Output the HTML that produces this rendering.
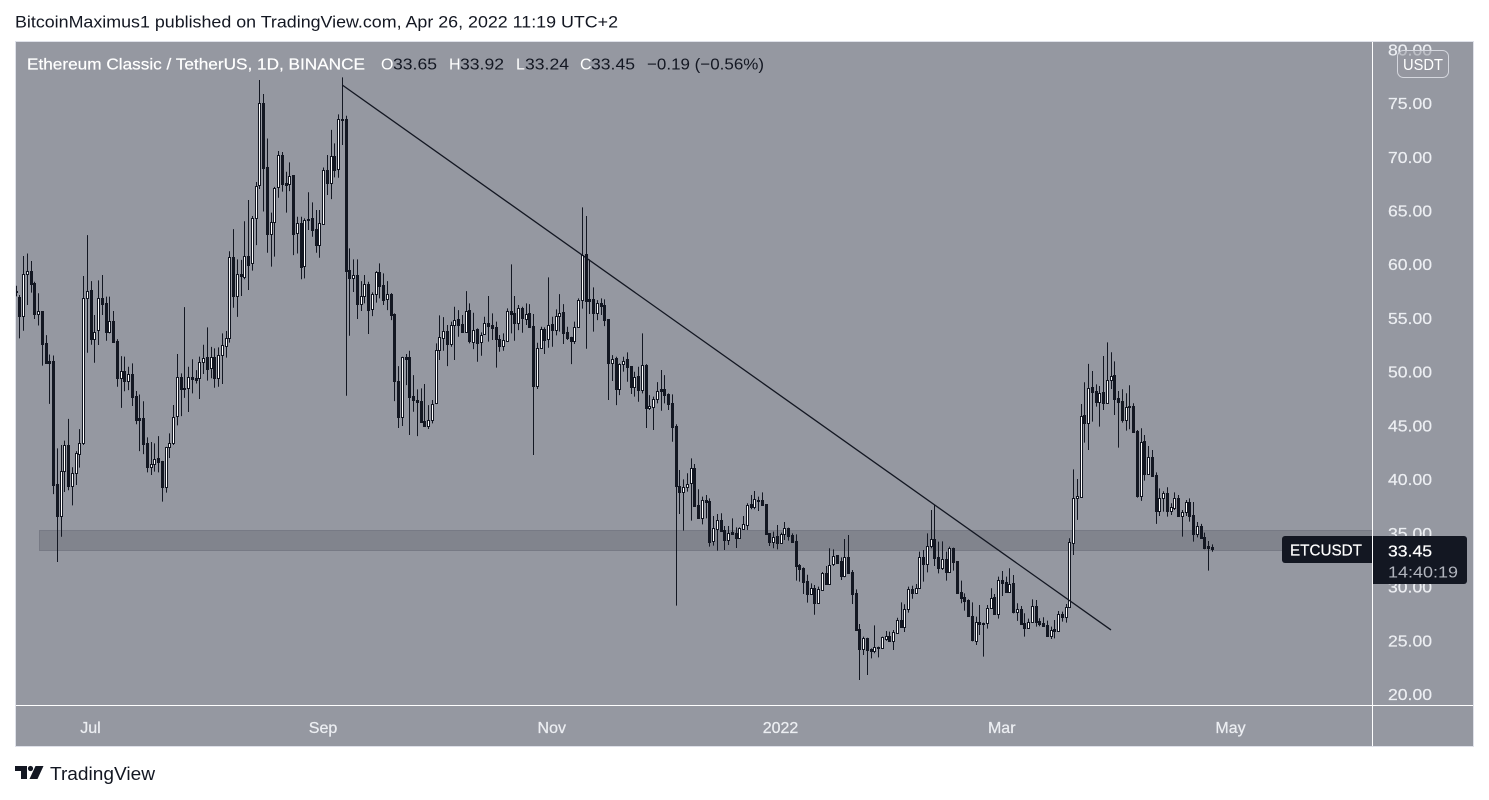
<!DOCTYPE html>
<html lang="en">
<head>
<meta charset="utf-8">
<title>ETCUSDT chart</title>
<style>
html,body{margin:0;padding:0;background:#fff;width:1489px;height:800px;overflow:hidden}
svg{display:block;position:absolute;left:0;top:0}
text{font-family:"Liberation Sans",sans-serif}
</style>
</head>
<body>
<svg id="chart" xmlns="http://www.w3.org/2000/svg" width="1489" height="800" viewBox="0 0 1489 800">
  <text x="15" y="27.5" font-size="17" fill="#131722" textLength="603" lengthAdjust="spacingAndGlyphs">BitcoinMaximus1 published on TradingView.com, Apr 26, 2022 11:19 UTC+2</text>
  <rect x="15.5" y="41.5" width="1458" height="705" fill="#9598a1" stroke="#dfe1e9" stroke-width="1"/>
  <g id="marks"></g>
  <line x1="16" y1="705.5" x2="1473" y2="705.5" stroke="#fff"/>
  <line x1="1372.5" y1="42" x2="1372.5" y2="746" stroke="#fff"/>
  <g id="axes"></g>
  <g font-size="16">
    <text x="27" y="69.5" fill="#fff" stroke="#fff" stroke-width="0.2" textLength="338" lengthAdjust="spacingAndGlyphs">Ethereum Classic / TetherUS, 1D, BINANCE</text>
    <text x="381" y="69.5" fill="#fff">O</text>
    <text x="393" y="69.5" fill="#131722" textLength="44" lengthAdjust="spacingAndGlyphs">33.65</text>
    <text x="449" y="69.5" fill="#fff">H</text>
    <text x="460" y="69.5" fill="#131722" textLength="44" lengthAdjust="spacingAndGlyphs">33.92</text>
    <text x="516" y="69.5" fill="#fff">L</text>
    <text x="525" y="69.5" fill="#131722" textLength="44" lengthAdjust="spacingAndGlyphs">33.24</text>
    <text x="580" y="69.5" fill="#fff">C</text>
    <text x="591" y="69.5" fill="#131722" textLength="44" lengthAdjust="spacingAndGlyphs">33.45</text>
    <text x="647" y="69.5" fill="#131722" textLength="117" lengthAdjust="spacingAndGlyphs">−0.19 (−0.56%)</text>
  </g>
  <g>
    <rect x="1397.5" y="50.5" width="51" height="27" rx="6" fill="#9598a1" fill-opacity="0.55" stroke="#d5d7de"/>
    <text x="1403" y="70" font-size="16" fill="#fff" textLength="40" lengthAdjust="spacingAndGlyphs">USDT</text>
  </g>
  <g>
    <path d="M1372 536H1285a3 3 0 0 0-3 3V560a3 3 0 0 0 3 3H1372Z" fill="#131722"/>
    <path d="M1373 536H1464a3 3 0 0 1 3 3V581a3 3 0 0 1-3 3H1373Z" fill="#131722"/>
    <text x="1290" y="555.5" font-size="16" fill="#fff" stroke="#fff" stroke-width="0.2" textLength="72" lengthAdjust="spacingAndGlyphs">ETCUSDT</text>
    <text x="1388" y="556.5" font-size="16" fill="#fff" stroke="#fff" stroke-width="0.2" textLength="44" lengthAdjust="spacingAndGlyphs">33.45</text>
    <text x="1388" y="577.5" font-size="16" fill="#b2b5be" textLength="70" lengthAdjust="spacingAndGlyphs">14:40:19</text>
  </g>
  <g>
    <polygon points="15,766 27,766 27,779 21,779 21,771 15,771" fill="#131722"/>
    <circle cx="30.5" cy="768.5" r="2.6" fill="#131722"/>
    <polygon points="35.5,766 43.5,766 37.5,779 29.5,779" fill="#131722"/>
    <text x="50" y="780" font-size="18" fill="#131722" textLength="105" lengthAdjust="spacingAndGlyphs">TradingView</text>
  </g>
</svg>
<script>
const opens = [
57.40,56.98,55.17,59.08,59.33,58.28,55.40,55.60,52.63,50.95,
50.95,39.54,36.60,40.80,43.20,39.36,40.60,42.36,43.37,56.82,
57.56,53.07,53.84,56.90,56.35,53.72,54.70,52.84,49.43,50.10,
49.15,49.78,47.73,45.65,45.65,43.33,41.16,41.43,41.93,41.65,
39.26,42.95,43.37,45.86,49.50,48.44,48.44,49.53,49.40,49.38,
50.93,51.33,50.30,51.36,49.43,51.58,52.42,53.10,60.64,57.04,
59.08,58.84,60.76,60.08,64.26,67.34,74.97,69.00,62.84,63.90,
67.15,70.20,67.52,67.43,68.27,62.87,63.80,59.80,64.20,64.26,
63.24,61.80,63.77,68.73,67.58,70.06,68.82,73.54,73.48,59.45,
58.74,58.96,56.32,57.07,58.15,55.79,57.19,59.27,58.06,56.73,
57.19,55.36,49.09,45.80,51.33,51.33,47.70,47.36,47.26,45.37,
44.97,45.50,47.05,51.98,53.16,53.78,52.60,54.37,54.86,54.40,
53.72,55.70,52.79,53.93,52.72,53.47,54.49,54.34,54.15,53.06,
52.38,52.88,55.61,55.42,54.55,55.92,54.93,55.42,54.24,48.69,
52.23,53.93,53.00,54.40,53.84,55.21,55.51,53.69,53.19,52.88,
54.12,56.63,60.91,56.73,56.73,55.48,56.35,56.20,54.86,50.83,
51.24,48.41,50.68,51.14,50.49,48.60,49.59,48.29,50.61,46.61,
46.74,47.48,48.35,48.35,47.88,47.05,44.94,39.33,38.83,39.30,
39.60,41.00,37.59,36.41,38.03,37.93,34.27,35.39,36.16,35.26,
34.33,35.05,34.95,34.52,35.39,35.76,37.65,37.44,38.09,38.03,
37.65,34.95,34.18,34.67,34.08,34.92,35.42,34.80,34.21,31.98,
31.73,30.52,29.31,29.84,28.50,29.68,31.26,30.24,32.07,32.91,
32.41,31.01,32.72,31.32,29.37,26.02,24.19,25.18,24.16,24.03,
24.35,24.28,25.15,25.40,24.96,25.71,26.89,26.27,27.94,29.74,
29.43,29.90,32.72,32.10,33.81,34.40,32.72,31.70,32.53,31.35,
33.56,32.35,29.46,29.00,28.72,27.29,24.96,26.73,26.61,26.58,
28.04,29.03,27.42,30.58,30.39,29.52,30.30,27.66,27.88,26.58,
26.18,26.74,28.19,26.77,26.58,26.39,25.43,26.02,25.87,27.42,
27.20,28.13,34.03,38.21,38.37,45.94,45.19,48.54,48.17,47.21,
48.08,47.12,49.26,49.66,47.52,47.24,45.53,46.78,46.78,44.45,
38.46,43.52,40.51,42.03,40.35,37.07,38.21,38.71,37.07,37.35,
38.28,36.60,36.97,37.87,36.63,34.93,35.64,34.58,33.75,33.65];
const highs = [
58.00,57.13,60.76,61.00,60.30,58.37,57.30,55.65,53.40,51.60,
51.50,42.86,43.17,43.58,45.60,41.10,42.60,44.65,58.90,62.71,
58.43,55.27,58.50,59.00,56.98,56.98,55.64,53.03,51.45,51.40,
50.46,50.77,48.20,47.87,47.25,43.88,43.45,43.33,44.00,41.70,
43.00,44.25,46.90,51.64,49.84,56.00,50.46,51.15,50.14,51.40,
52.50,54.12,52.30,52.17,52.26,53.56,53.78,61.20,63.27,60.45,
60.40,64.00,65.97,64.48,67.65,77.14,75.84,71.70,64.80,67.20,
70.53,70.44,68.60,69.48,68.30,64.42,64.42,64.26,66.70,65.75,
65.04,65.04,69.00,70.16,72.50,71.24,73.94,77.39,73.82,61.47,
60.45,60.45,58.43,58.99,58.37,57.38,59.36,60.08,59.15,58.43,
57.31,55.42,50.52,51.39,51.64,51.95,49.68,48.35,48.44,48.85,
46.89,47.36,52.63,55.24,55.08,54.34,54.65,56.04,55.73,55.27,
57.50,56.35,55.48,54.03,53.65,55.11,57.04,55.42,54.65,53.41,
53.56,55.89,59.98,57.04,56.20,56.04,56.35,56.29,55.36,52.69,
54.18,54.12,58.77,55.11,55.80,57.22,56.29,54.18,53.25,54.65,
56.82,65.29,64.48,60.45,57.84,56.66,56.82,56.73,54.86,51.54,
51.39,50.77,51.39,51.79,50.52,49.99,50.46,53.56,50.70,47.82,
47.67,49.03,50.15,49.68,47.98,47.88,45.10,40.85,39.98,40.54,
41.93,41.40,39.05,38.37,38.52,38.21,36.57,36.75,36.82,35.64,
35.64,36.35,35.51,35.51,36.57,37.75,38.52,38.89,38.37,38.77,
37.68,34.98,35.11,35.73,35.02,36.01,35.48,34.95,34.86,32.10,
31.79,31.10,30.30,30.15,29.99,31.35,31.91,33.56,33.46,32.94,
32.72,34.43,34.80,31.54,29.74,26.52,25.34,25.24,24.25,26.39,
24.41,25.34,25.86,25.80,25.96,27.10,28.53,28.35,29.99,30.08,
30.24,33.25,33.40,34.95,37.13,37.59,34.18,34.21,33.25,33.71,
33.62,32.38,30.55,29.37,28.81,28.53,27.20,28.28,26.64,28.28,
29.84,29.31,30.92,31.45,30.92,31.70,31.08,28.44,28.19,27.51,
27.02,28.81,28.75,27.05,27.14,26.83,26.27,26.89,27.73,27.67,
28.38,34.49,40.91,40.01,46.99,49.01,50.72,50.06,48.82,48.67,
51.46,52.73,51.80,50.96,48.20,48.36,47.99,48.73,47.06,44.57,
44.73,44.11,43.08,42.71,40.63,39.14,38.87,39.24,37.75,38.77,
38.52,37.13,38.06,38.21,37.87,36.01,35.83,35.02,34.24,33.92];
const lows = [
57.00,53.10,53.81,56.20,57.35,54.90,54.30,50.56,50.77,47.00,
38.60,32.28,34.64,38.80,38.96,37.56,39.45,41.07,43.17,51.76,
52.50,50.83,52.48,55.27,52.88,53.56,52.70,48.60,46.63,48.18,
48.28,46.80,45.10,42.60,42.33,40.63,40.38,40.70,40.63,37.90,
38.74,41.96,43.17,45.00,45.86,47.56,46.24,47.98,48.90,47.45,
49.78,49.16,49.38,48.50,48.60,48.85,51.30,52.70,55.95,55.10,
57.04,58.60,57.60,59.40,61.78,67.00,64.90,61.07,59.77,60.70,
66.19,66.75,64.80,66.80,60.85,61.00,58.60,58.68,63.18,62.56,
61.07,60.60,63.70,66.44,66.06,68.08,68.05,71.09,47.76,53.34,
57.41,54.90,55.64,56.35,53.50,55.17,56.42,56.82,56.20,55.73,
54.80,47.26,44.75,44.94,48.75,44.10,46.27,44.00,45.25,44.87,
44.66,45.19,46.98,51.08,51.95,50.52,52.32,51.08,53.25,53.70,
53.70,52.63,52.10,50.92,51.48,53.44,52.79,52.94,50.37,51.85,
51.95,52.85,53.56,52.88,53.87,53.62,54.34,54.12,42.24,48.38,
52.17,51.64,52.23,52.32,53.38,53.72,52.57,52.94,50.70,52.57,
54.09,55.86,52.13,55.36,53.72,54.80,55.27,54.24,47.36,49.13,
46.89,47.82,50.00,49.06,47.92,47.67,47.20,47.98,44.75,46.43,
44.57,47.05,46.36,47.05,46.43,43.48,28.22,36.75,35.20,38.83,
36.13,37.44,36.32,35.79,36.35,33.71,33.81,33.34,35.12,33.40,
33.87,34.80,33.59,34.47,35.34,35.26,37.19,37.19,37.03,37.58,
34.80,33.77,33.56,33.46,34.05,34.33,34.27,34.12,30.55,30.46,
29.31,28.50,29.27,27.38,28.46,29.63,30.18,30.18,31.91,32.15,
30.61,30.86,31.25,28.38,25.90,21.30,23.63,21.77,23.32,23.79,
23.41,24.22,24.96,24.90,24.09,25.65,26.21,25.77,27.57,28.87,
29.37,29.85,30.46,31.32,33.56,31.91,31.23,31.54,30.55,31.30,
31.48,29.37,28.44,27.76,27.25,24.90,24.56,25.49,23.48,26.08,
27.95,27.38,27.01,29.12,29.48,29.48,27.50,26.80,26.48,25.34,
26.10,26.68,26.27,26.30,26.30,25.34,25.12,25.18,25.78,26.74,
26.64,28.10,32.94,36.20,38.30,43.39,42.71,45.35,46.75,44.88,
46.43,47.09,48.39,45.97,42.93,45.26,44.51,44.64,44.33,38.28,
37.97,39.86,40.48,40.26,35.83,36.57,36.97,36.51,36.66,37.13,
36.57,34.65,36.57,36.04,34.18,34.58,34.50,33.47,31.48,33.24];
const closes = [
57.50,55.17,59.08,59.33,58.20,55.36,55.60,52.57,50.83,50.83,
39.48,36.60,40.80,43.20,39.33,40.60,42.40,43.40,56.82,57.53,
53.07,53.72,56.90,56.29,53.72,54.68,52.78,49.43,50.10,49.15,
49.75,47.67,45.50,45.53,43.30,41.16,41.43,41.90,41.60,39.26,
42.95,43.40,45.80,49.46,48.37,48.37,49.53,49.28,49.25,50.93,
51.30,50.24,51.33,49.40,51.58,52.45,53.10,60.64,57.04,59.05,
58.90,60.73,59.95,64.26,67.24,74.97,68.98,62.84,63.95,67.09,
70.20,67.50,67.34,68.24,62.84,63.80,59.77,64.08,64.14,63.18,
61.78,63.80,68.73,67.58,70.03,68.76,73.54,73.45,59.40,58.74,
58.96,56.32,57.07,58.12,55.76,57.19,59.24,58.00,56.66,57.19,
55.27,49.13,45.77,51.33,51.20,47.67,47.36,47.20,45.34,44.94,
45.50,47.00,51.98,53.19,53.75,52.60,54.37,54.83,54.37,53.72,
55.67,52.85,53.90,52.69,53.44,54.49,54.24,54.09,53.03,52.38,
52.91,55.61,55.36,54.55,55.92,54.96,55.39,54.15,48.69,52.23,
53.93,52.97,54.37,53.87,55.21,55.48,53.62,53.13,52.88,54.12,
56.63,60.85,56.60,56.60,55.48,56.35,56.13,54.80,50.83,51.20,
48.41,50.68,51.02,50.46,48.60,49.53,48.29,50.58,46.64,46.83,
47.48,48.23,48.23,47.82,46.98,44.87,39.39,38.83,39.30,39.58,
41.00,37.50,36.38,38.03,37.90,34.18,35.48,36.16,35.20,34.33,
35.02,34.89,34.52,35.42,35.79,37.56,37.40,38.12,38.00,37.62,
34.92,34.18,34.64,34.08,34.92,35.48,34.70,34.15,31.91,31.63,
30.42,29.31,29.84,28.50,29.74,31.23,30.27,32.04,32.88,32.22,
30.98,32.72,31.29,29.31,25.96,24.19,25.18,24.09,24.03,24.35,
24.28,25.28,25.37,24.96,25.74,26.86,26.27,27.94,29.74,29.43,
29.90,32.72,32.13,33.81,34.40,32.69,31.76,32.53,31.39,33.56,
32.32,29.40,28.97,28.66,27.29,25.03,26.73,26.52,26.55,28.04,
28.97,27.42,30.58,30.36,29.52,30.27,27.63,27.88,26.52,26.18,
26.74,28.16,26.74,26.52,26.33,25.40,25.99,25.90,27.42,27.20,
28.13,34.12,38.21,38.46,45.91,45.19,48.51,48.14,47.21,48.05,
47.12,49.26,49.63,47.46,47.21,45.50,46.75,46.68,44.42,38.46,
43.49,40.51,42.03,40.32,37.07,38.21,38.68,37.03,37.38,38.21,
36.60,36.97,37.84,36.60,34.93,35.61,34.55,33.56,33.62,33.45];
const priceTicks = [80,75,70,65,60,55,50,45,40,35,30,25,20];
const timeLabels = ["Jul","Sep","Nov","2022","Mar","May"];
const timeBars = [20,82,143,204,263,324];
const zonePrices = [35.26,33.40];
const zoneStartBar = 6;
const trendBars = [87,292];
const trendPrices = [76.68,25.96];

const NS = 'http://www.w3.org/2000/svg';
function xOf(i){ return 16 + 3.75 * i; }
function yOf(p){ return 694 - (p - 20) * 10.745; }
function mk(tag, attrs, parent){
  const el = document.createElementNS(NS, tag);
  for (const k in attrs) el.setAttribute(k, attrs[k]);
  parent.appendChild(el);
  return el;
}
const marks = document.getElementById('marks');
const axes = document.getElementById('axes');
const clip = mk('clipPath', {id:'plot-clip'}, marks);
mk('rect', {x:16, y:42, width:1356, height:663}, clip);
marks.setAttribute('clip-path', 'url(#plot-clip)');

const zoneTop = Math.round(yOf(zonePrices[0])) + 0.5;
const zoneBottom = Math.round(yOf(zonePrices[1])) + 0.5;
const zone = mk('rect', {x: Math.round(xOf(zoneStartBar)) + 0.5, y: zoneTop, width: 1400, height: zoneBottom - zoneTop, fill:'#81848d', stroke:'#777a85'}, marks);



for (let i = 0; i < closes.length; i++) {
  const c = Math.floor(xOf(i));
  const up = closes[i] >= opens[i];
  const g = mk('g', {}, marks);
  
  
  mk('line', {x1:c + 0.5, x2:c + 0.5, y1:yOf(highs[i]), y2:yOf(lows[i]), stroke:'#131722', 'stroke-width':1}, g);
  const top = Math.round(yOf(Math.max(opens[i], closes[i])));
  const bottom = Math.round(yOf(Math.min(opens[i], closes[i])));
  mk('rect', {x:c - 0.5, y:top + 0.5, width:2, height:Math.max(bottom - top, 1), fill: up ? '#ffffff' : '#131722', stroke:'#131722', 'stroke-width':1}, g);
}

const trend = mk('line', {x1:xOf(trendBars[0]), y1:yOf(trendPrices[0]), x2:xOf(trendBars[1]), y2:yOf(trendPrices[1]), stroke:'#131722', 'stroke-width':1.3}, marks);



priceTicks.forEach(function(p){
  const t = mk('text', {x:1388, y:yOf(p) + 6, 'font-size':16, fill:'#eceef2', stroke:'#eceef2', 'stroke-width':0.2, textLength:44, lengthAdjust:'spacingAndGlyphs'}, axes);
  
  
  t.textContent = p.toFixed(2);
});
timeLabels.forEach(function(label, k){
  const t = mk('text', {x:xOf(timeBars[k]) - 0.5, y:733, 'font-size':16, 'text-anchor':'middle', fill:'#eceef2', stroke:'#eceef2', 'stroke-width':0.25}, axes);
  
  
  t.textContent = label;
});
</script>
</body>
</html>
